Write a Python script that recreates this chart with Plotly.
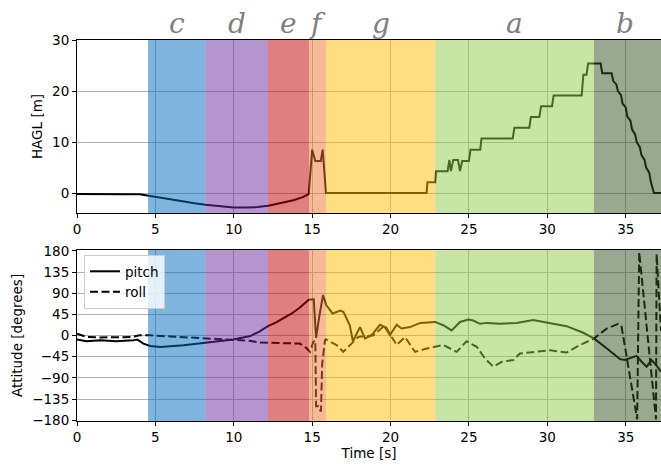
import plotly.graph_objects as go

# ---------------- data ----------------
phase_names = ["c", "d", "e", "f", "g", "a", "b"]
phase_start = [4.53, 8.18, 12.18, 14.8, 15.88, 22.85, 32.97]
phase_end = [8.18, 12.18, 14.8, 15.88, 22.85, 32.97, 37.25]
phase_label_x = [6.36, 10.18, 13.49, 15.34, 19.37, 27.91, 34.95]
phase_colors = ["#006BBB", "#692B9D", "#C10000", "#EB752D", "#FFBB01", "#91CB4D", "#375123"]

hagl_t = [0, 1, 2, 3, 4.0, 4.5, 5.5, 6.5, 7.5, 8.2, 9.0, 10.0, 10.8, 11.5, 12.2, 13.0, 13.8, 14.4, 14.78,
          15.0, 15.2, 15.55, 15.67, 15.88, 22.3, 22.35, 22.85, 22.9, 23.64, 23.75, 23.85, 24.0, 24.3, 24.43,
          24.57, 25.0, 25.1, 25.72, 25.8, 27.79, 27.9, 28.85, 28.95, 29.49, 29.6, 30.3, 30.4, 32.19, 32.3,
          32.5, 32.6, 33.4, 33.5, 34.1, 34.2, 34.4, 34.5, 34.7, 34.8, 35.0, 35.1, 35.3, 35.4, 35.6, 35.7,
          35.9, 36.0, 36.2, 36.3, 36.5, 36.6, 36.8, 37.25]
hagl_v = [-0.2, -0.25, -0.25, -0.25, -0.25, -0.5, -1.1, -1.6, -2.0, -2.3, -2.6, -2.85, -2.85, -2.75, -2.5, -2.0,
          -1.4, -0.8, -0.2, 8.5, 6.3, 6.3, 8.5, 0.0, 0.0, 2.1, 2.1, 4.3, 4.3, 6.5, 4.3, 6.5, 6.5, 4.3,
          6.3, 6.3, 8.5, 8.5, 10.7, 10.7, 12.8, 12.8, 14.9, 14.9, 17.0, 17.0, 19.1, 19.1, 23.2,
          23.2, 25.4, 25.4, 23.5, 23.5, 22.0, 21.3, 20.0, 19.2, 17.5, 16.8, 15.0, 14.2, 12.5, 11.5, 10.0,
          9.0, 7.5, 6.5, 5.0, 4.0, 2.2, 0.0, 0.0]

pitch_t = [0, 0.6, 1.5, 2.5, 3.6, 3.85, 4.24, 4.66, 5.3, 6.0, 6.8, 7.5, 8.18, 9.0, 9.97, 10.6, 11.05, 11.6,
           12.18, 12.7, 13.2, 13.7, 14.2, 14.5, 14.78, 15.1, 15.25, 15.45, 15.69, 15.9, 16.3, 16.8, 17.0,
           17.4, 17.6, 18.05, 18.37, 18.8, 19.32, 19.64, 19.96, 20.39, 20.7, 21.24, 21.9, 22.85, 23.36,
           23.9, 24.43, 24.96, 25.27, 25.7, 26.13, 26.98, 28.04, 29.1, 30.17, 31.23, 32.29, 32.97, 33.78,
           34.63, 34.95, 35.3, 35.69, 36.0, 36.33, 36.65, 36.97, 37.25]
pitch_v = [-8.5, -12, -10, -12, -10, -8.5, -17, -22, -24, -23, -20.7, -18, -14.8, -12, -8.5, -5, -1, 8,
           20, 28, 37, 47, 59, 68, 76, 77, -5, 40, 86, 65, 47, 53, 50,
           22, -12, 18, -6, 1, 23, 18, 1, 23, 15, 18, 27, 29, 22,
           11, 29, 34, 32, 25, 27, 25, 27, 33, 27, 20, 6, -6, -27,
           -50, -52, -48, -43, -55, -66, -52, -64, -77]

roll_t = [0, 0.62, 1.5, 2.5, 3.5, 4.0, 4.66, 6.0, 8.18, 9.97, 11.0, 11.67, 12.73, 14.22, 14.65, 14.86,
          15.07, 15.2, 15.25, 15.4, 15.5, 15.56, 15.64, 15.82, 15.88, 16.56, 16.98, 17.41, 17.94, 18.9,
          19.64, 20.07, 20.39, 20.92, 21.56, 22.3, 23.36, 24.22, 24.85, 25.5, 26.02, 26.55, 27.09, 27.83,
          28.25, 30.17, 31.23, 32.08, 32.97, 33.78, 34.52, 34.74, 35.73, 35.86, 36.93, 36.97, 37.25]
roll_v = [4, -3, -4, -4, -3, 0.6, 0.6, -2, -6.4, -8.5, -11, -14.8, -15.6, -17, -27, -34.6,
          -13.5, -10, -150, -150, -158, -161, -60, -10, -8, -20.4, -34.5, -20.4, -3, 0.6,
          21.7, -3, -20, -3, -34.5, -27.5, -20, -34.5, -12, -24, -48.5, -66, -55.7, -52,
          -38, -31, -36, -20, -6.4, 14.7, 25, 18, -178, 177, -178, 173, 10]

x_ticks = [0, 5, 10, 15, 20, 25, 30, 35]
hagl_ticks = [0, 10, 20, 30]
att_ticks = [-180, -135, -90, -45, 0, 45, 90, 135, 180]
X_MAX = 37.25

# ---------------- figure ----------------
FONT = "DejaVu Sans"
fig = go.Figure()

fig.add_trace(go.Scatter(x=hagl_t, y=hagl_v, mode="lines", line=dict(color="black", width=2),
                         showlegend=False, xaxis="x", yaxis="y"))
fig.add_trace(go.Scatter(x=pitch_t, y=pitch_v, mode="lines", name="pitch",
                         line=dict(color="black", width=2), xaxis="x2", yaxis="y2"))
fig.add_trace(go.Scatter(x=roll_t, y=roll_v, mode="lines", name="roll",
                         line=dict(color="black", width=2, dash="8px,3.5px"), xaxis="x2", yaxis="y2"))

shapes = []
annotations = []
for name, s, e, lx, c in zip(phase_names, phase_start, phase_end, phase_label_x, phase_colors):
    for xr, yr in (("x", "y domain"), ("x2", "y2 domain")):
        shapes.append(dict(type="rect", xref=xr, yref=yr, x0=s, x1=e, y0=0, y1=1,
                           fillcolor=c, opacity=0.5, line=dict(width=0), layer="above"))
    annotations.append(dict(x=lx, xref="x", y=1.0, yref="paper", yanchor="bottom", yshift=-1,
                            text=name, showarrow=False, borderpad=0,
                            font=dict(family="DejaVu Serif", size=28, color="#808080", style="italic")))

axis_common = dict(showline=True, linecolor="black", linewidth=1, ticks="outside", ticklen=4,
                   tickcolor="black", showgrid=True, gridcolor="#b0b0b0", gridwidth=1,
                   zeroline=False, automargin=False,
                   tickfont=dict(family=FONT, size=13.5, color="black"))

fig.update_layout(
    width=661, height=468,
    margin=dict(l=77, r=0, t=40, b=47, autoexpand=False),
    plot_bgcolor="white", paper_bgcolor="white",
    font=dict(family=FONT, size=13.5, color="black"),
    shapes=shapes, annotations=annotations,
    xaxis=dict(domain=[0, 1], range=[0, X_MAX], tickvals=x_ticks, anchor="y", mirror=True, **axis_common),
    yaxis=dict(domain=[0.546, 1], range=[-3.9, 30], tickvals=hagl_ticks, anchor="x",
               title=dict(text="HAGL [m]", standoff=6, font=dict(size=13.5)), **axis_common),
    xaxis2=dict(domain=[0, 1], range=[0, X_MAX], tickvals=x_ticks, anchor="y2", mirror=True,
                title=dict(text="Time [s]", standoff=4, font=dict(size=13.5)), **axis_common),
    yaxis2=dict(domain=[0, 0.449], range=[-181.5, 182], tickvals=att_ticks, anchor="x2",
                title=dict(text="Attitude [degrees]", standoff=6, font=dict(size=13.5)), **axis_common),
    legend=dict(x=0.012, y=0.4357, xanchor="left", yanchor="top", bgcolor="rgba(255,255,255,0.8)",
                bordercolor="#cccccc", borderwidth=1, font=dict(family=FONT, size=13.5, color="black"),
                tracegroupgap=0),
)

# remove the browser's default 8px body margin so the figure sits at the window's top-left corner
fig.write_html("out.html", config={"displayModeBar": False},
               post_script="document.body.style.margin='0';")
